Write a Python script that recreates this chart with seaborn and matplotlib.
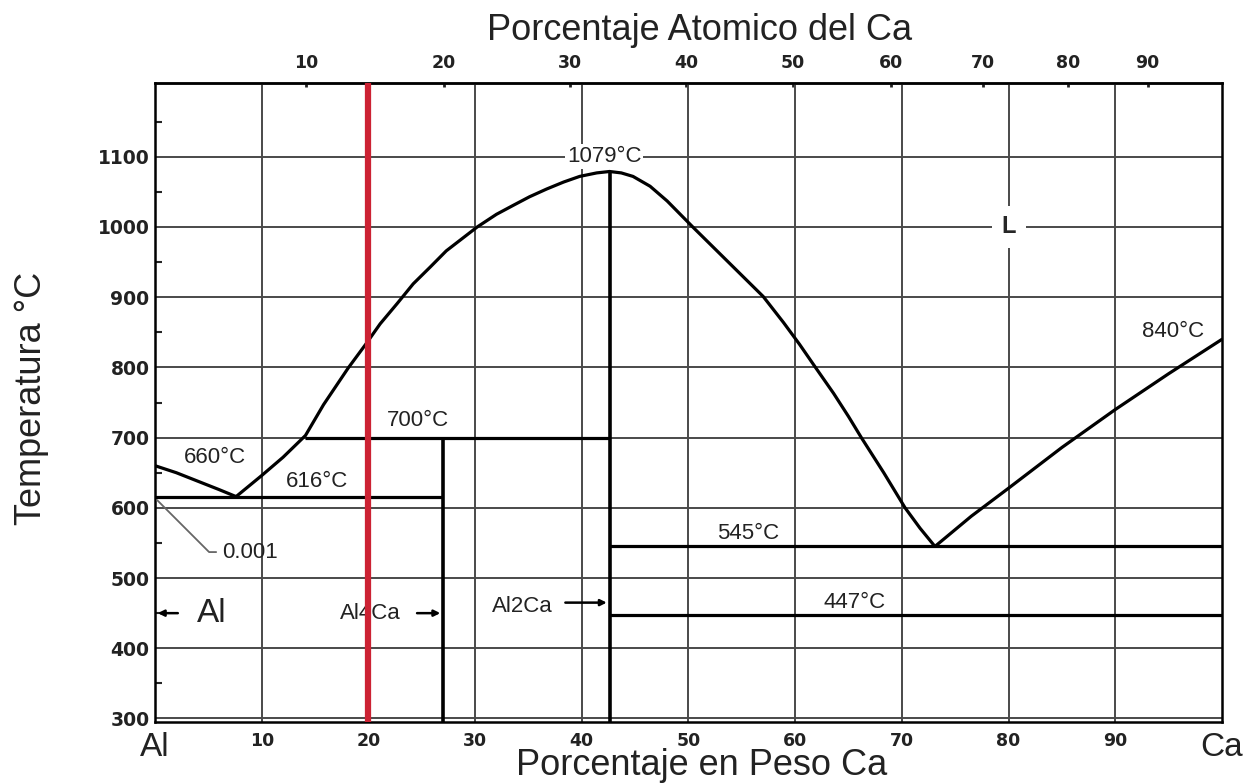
import numpy as np
import pandas as pd
import matplotlib
matplotlib.use("Agg")
import matplotlib.pyplot as plt
import seaborn as sns

# ---- Al–Ca phase diagram data (composition in wt% Ca, temperature in °C) ----
al_liq_wt = [0, 2.0, 4.0, 6.0, 7.6]
al_liq_T = [660, 650, 638, 626, 616]

left_liq_wt = [7.6, 10, 12, 14.1, 15.8, 18.1, 19.8, 21.1, 22.7, 24.2, 25.8, 27.3,
               30.2, 32.0, 33.6, 35.1, 36.7, 38.3, 39.8, 41.4, 42.6]
left_liq_T = [616, 646, 672, 703, 747, 799, 834, 862, 891, 919, 943, 966,
              1000, 1018, 1031, 1043, 1054, 1064, 1072, 1077, 1079]

right_liq_wt = [42.6, 43.7, 44.8, 46.4, 48.0, 50.4, 52.6, 54.8, 57.0, 58.9, 60.4, 61.9,
                63.6, 65.0, 66.2, 68.3, 70.3, 71.7, 73.1]
right_liq_T = [1079, 1077, 1072, 1058, 1037, 1000, 967, 934, 901, 864, 833, 800,
               763, 730, 700, 650, 600, 571, 545]

ca_liq_wt = [73.1, 76.5, 80, 85, 90, 95, 100]
ca_liq_T = [545, 588, 628, 686, 740, 791, 840]

# invariant isotherms
iso_T = [616, 700, 545, 447]
iso_from = [0, 14.1, 42.6, 42.6]
iso_to = [27, 42.6, 100, 100]

# intermetallic compounds (line compounds)
compound_wt = [27.0, 42.6]
compound_top = [700, 1079]

# marked alloy composition
alloy_wt = 20

temp_ticks = [300, 400, 500, 600, 700, 800, 900, 1000, 1100]
wt_ticks = [0, 10, 20, 30, 40, 50, 60, 70, 80, 90, 100]
wt_labels = ["Al", "10", "20", "30", "40", "50", "60", "70", "80", "90", "Ca"]
at_ticks = [10, 20, 30, 40, 50, 60, 70, 80, 90]

M_AL, M_CA = 26.98, 40.08


def wt_to_at(w):
    w = np.clip(np.asarray(w, dtype=float), 0, 100)
    n_ca = w / M_CA
    n_al = (100 - w) / M_AL
    return 100 * n_ca / (n_ca + n_al)


def at_to_wt(a):
    a = np.clip(np.asarray(a, dtype=float), 0, 100)
    m_ca = a * M_CA
    m_al = (100 - a) * M_AL
    return 100 * m_ca / (m_ca + m_al)


curves = pd.concat([
    pd.DataFrame({"wt": al_liq_wt, "T": al_liq_T, "branch": "al"}),
    pd.DataFrame({"wt": left_liq_wt, "T": left_liq_T, "branch": "left"}),
    pd.DataFrame({"wt": right_liq_wt, "T": right_liq_T, "branch": "right"}),
    pd.DataFrame({"wt": ca_liq_wt, "T": ca_liq_T, "branch": "ca"}),
], ignore_index=True)

sns.set_theme(style="white")
plt.rcParams["font.family"] = ["Liberation Sans", "DejaVu Sans"]

fig = plt.figure(figsize=(12.44, 7.84), dpi=100)
ax = fig.add_axes([0.1246, 0.0791, 0.8577, 0.815])

grid_kw = dict(color="#4a4a4a", lw=1.4, zorder=1)
for x in range(10, 100, 10):
    ax.axvline(x, **grid_kw)
for t in temp_ticks:
    ax.axhline(t, **grid_kw)

sns.lineplot(data=curves, x="wt", y="T", units="branch", estimator=None, sort=False,
             color="black", lw=2.3, ax=ax, zorder=3, legend=False)
for line in ax.lines[-4:]:
    line.set_solid_joinstyle("round")

ax.hlines(iso_T, iso_from, iso_to, colors="black", lw=2.3, zorder=3)
ax.vlines(compound_wt, 290, compound_top, colors="black", lw=2.6, zorder=3)

ax.axvline(alloy_wt, color="#cc2233", lw=4.5, zorder=6)

ax.set_xlim(0, 100)
ax.set_ylim(295, 1205)

# labels on the diagram
lab = dict(fontsize=16, color="#222222", ha="center", va="center", zorder=4)
ax.text(42.1, 1101, "1079°C", bbox=dict(facecolor="white", edgecolor="none", pad=1.5), **lab)
ax.text(95.4, 851, "840°C", **lab)
ax.text(24.6, 725, "700°C", **lab)
ax.text(5.6, 671, "660°C", **lab)
ax.text(15.2, 637, "616°C", **lab)
ax.text(55.6, 564, "545°C", **lab)
ax.text(65.6, 465, "447°C", **lab)
ax.text(20.2, 450, "Al4Ca", **lab)
ax.text(34.4, 459, "Al2Ca", **lab)
ax.text(80, 1000, "L", fontsize=17, fontweight="bold", ha="center", va="center",
        bbox=dict(facecolor="white", edgecolor="none", pad=7), zorder=4)
ax.text(5.3, 450, "Al", fontsize=24, ha="center", va="center", color="#222222", zorder=4)

ax.annotate("0.001", xy=(0.2, 611), xytext=(6.3, 537), fontsize=16, color="#222222",
            ha="left", va="center", zorder=4,
            arrowprops=dict(arrowstyle="-", color="#666666", lw=1.3,
                            connectionstyle="angle,angleA=0,angleB=-45,rad=0",
                            shrinkA=2, shrinkB=0))

arrow_kw = dict(arrowstyle="-|>", color="black", lw=1.8, mutation_scale=9)
ax.annotate("", xy=(0, 450), xytext=(2.4, 450), arrowprops=arrow_kw, zorder=4)
ax.annotate("", xy=(27, 450), xytext=(24.3, 450), arrowprops=arrow_kw, zorder=4)
ax.annotate("", xy=(42.6, 465), xytext=(38.2, 465), arrowprops=arrow_kw, zorder=4)

# axes, ticks and titles
tick_font = dict(family="DejaVu Sans", weight="bold")
ax.set_xticks(wt_ticks)
ax.set_xticklabels(wt_labels, fontsize=12.5, **tick_font)
for i in (0, -1):
    t = ax.get_xticklabels()[i]
    t.set_fontsize(24)
    t.set_fontweight("normal")
    t.set_family(["Liberation Sans"])
ax.set_yticks(temp_ticks)
ax.set_yticklabels([str(t) for t in temp_ticks], fontsize=13.5, **tick_font)
ax.set_yticks(np.arange(350, 1200, 100), minor=True)
ax.tick_params(axis="x", which="major", length=0, pad=7, colors="#222222")
ax.tick_params(axis="y", which="major", length=0, pad=4, colors="#222222")
ax.tick_params(axis="y", which="minor", direction="in", length=5, width=1.5, left=True)

for s in ax.spines.values():
    s.set_color("black")
    s.set_linewidth(1.8)
    s.set_visible(True)

secax = ax.secondary_xaxis("top", functions=(wt_to_at, at_to_wt))
secax.set_xticks(at_ticks)
secax.set_xticklabels([str(a) for a in at_ticks], fontsize=12.5, **tick_font)
secax.tick_params(axis="x", direction="in", length=3, width=2, pad=8, colors="#222222")
secax.spines["top"].set_linewidth(1.8)
ax.text(0.51, 1.055, "Porcentaje Atomico del Ca", transform=ax.transAxes,
        fontsize=26, color="#222222", ha="center", va="bottom")

ax.set_xlabel("Porcentaje en Peso Ca", fontsize=26, color="#222222")
ax.xaxis.set_label_coords(0.512, -0.041)
ax.set_ylabel("Temperatura °C", fontsize=26, color="#222222")
ax.yaxis.set_label_coords(-0.099, 0.507)

fig.savefig("out.png", dpi=100, facecolor="white")
